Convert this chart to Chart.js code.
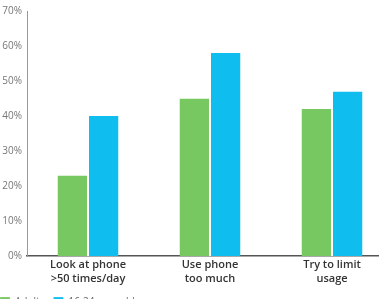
<!DOCTYPE html>
<html>
<head>
<meta charset="utf-8">
<script src="https://cdn.jsdelivr.net/npm/chart.js@4"></script>
<style>
  html, body { margin: 0; padding: 0; background: #fff; overflow: hidden; }
  .clip { width: 379px; height: 299px; overflow: hidden; position: relative; }
  .chart-box { width: 393px; height: 317px; position: absolute; left: 0; top: 0; }
</style>
</head>
<body>
<div class="clip">
  <div class="chart-box"><canvas id="chart"></canvas></div>
</div>
<script>
// categories (two-line labels)
const categories = [
  ["Look at phone", ">50 times/day"],
  ["Use phone", "too much"],
  ["Try to limit", "usage"]
];
const seriesNames = ["Adults", "16-24 year olds"];
const adults = [23, 45, 42];
const youngAdults = [40, 58, 47];
const yTicks = [0, 10, 20, 30, 40, 50, 60, 70];

// pull the legend flush with the left edge
const legendShift = {
  id: 'legendShift',
  afterLayout(chart) {
    if (chart.legend) chart.legend.left -= 9;
  }
};

const ctx = document.getElementById('chart').getContext('2d');
new Chart(ctx, {
  type: 'bar',
  data: {
    labels: categories,
    datasets: [
      {
        label: seriesNames[0],
        data: adults,
        backgroundColor: '#77c860',
        borderColor: '#ffffff',
        borderWidth: { left: 0, right: 1, top: 0, bottom: 0 },
        borderSkipped: false,
        categoryPercentage: 0.5,
        barPercentage: 1.0
      },
      {
        label: seriesNames[1],
        data: youngAdults,
        backgroundColor: '#0fbdee',
        borderColor: '#ffffff',
        borderWidth: { left: 1, right: 0, top: 0, bottom: 0 },
        borderSkipped: false,
        categoryPercentage: 0.5,
        barPercentage: 1.0
      }
    ]
  },
  plugins: [legendShift],
  options: {
    responsive: true,
    maintainAspectRatio: false,
    animation: false,
    layout: { padding: { top: 6, left: 0, right: 0, bottom: 0 } },
    plugins: {
      tooltip: { enabled: false },
      legend: {
        position: 'bottom',
        align: 'start',
        labels: {
          boxWidth: 10,
          boxHeight: 10,
          padding: 9,
          color: '#666',
          font: { family: 'Open Sans', size: 10 }
        }
      }
    },
    scales: {
      x: {
        grid: { display: false, drawTicks: false },
        border: { display: true, color: '#555', width: 1.5 },
        ticks: {
          color: '#333',
          padding: 2,
          maxRotation: 0,
          font: { family: 'Open Sans', size: 11, weight: '600', lineHeight: 1.27 }
        }
      },
      y: {
        min: yTicks[0],
        max: yTicks[yTicks.length - 1],
        grid: { display: false, drawTicks: false },
        border: { display: true, color: '#999', width: 1 },
        afterBuildTicks: (axis) => { axis.ticks = yTicks.map(v => ({ value: v })); },
        afterFit: (axis) => { axis.width = 27; },
        ticks: {
          color: '#777',
          padding: 5,
          font: { family: 'Open Sans', size: 10 },
          callback: (v) => v + '%'
        }
      }
    }
  }
});
</script>
</body>
</html>
